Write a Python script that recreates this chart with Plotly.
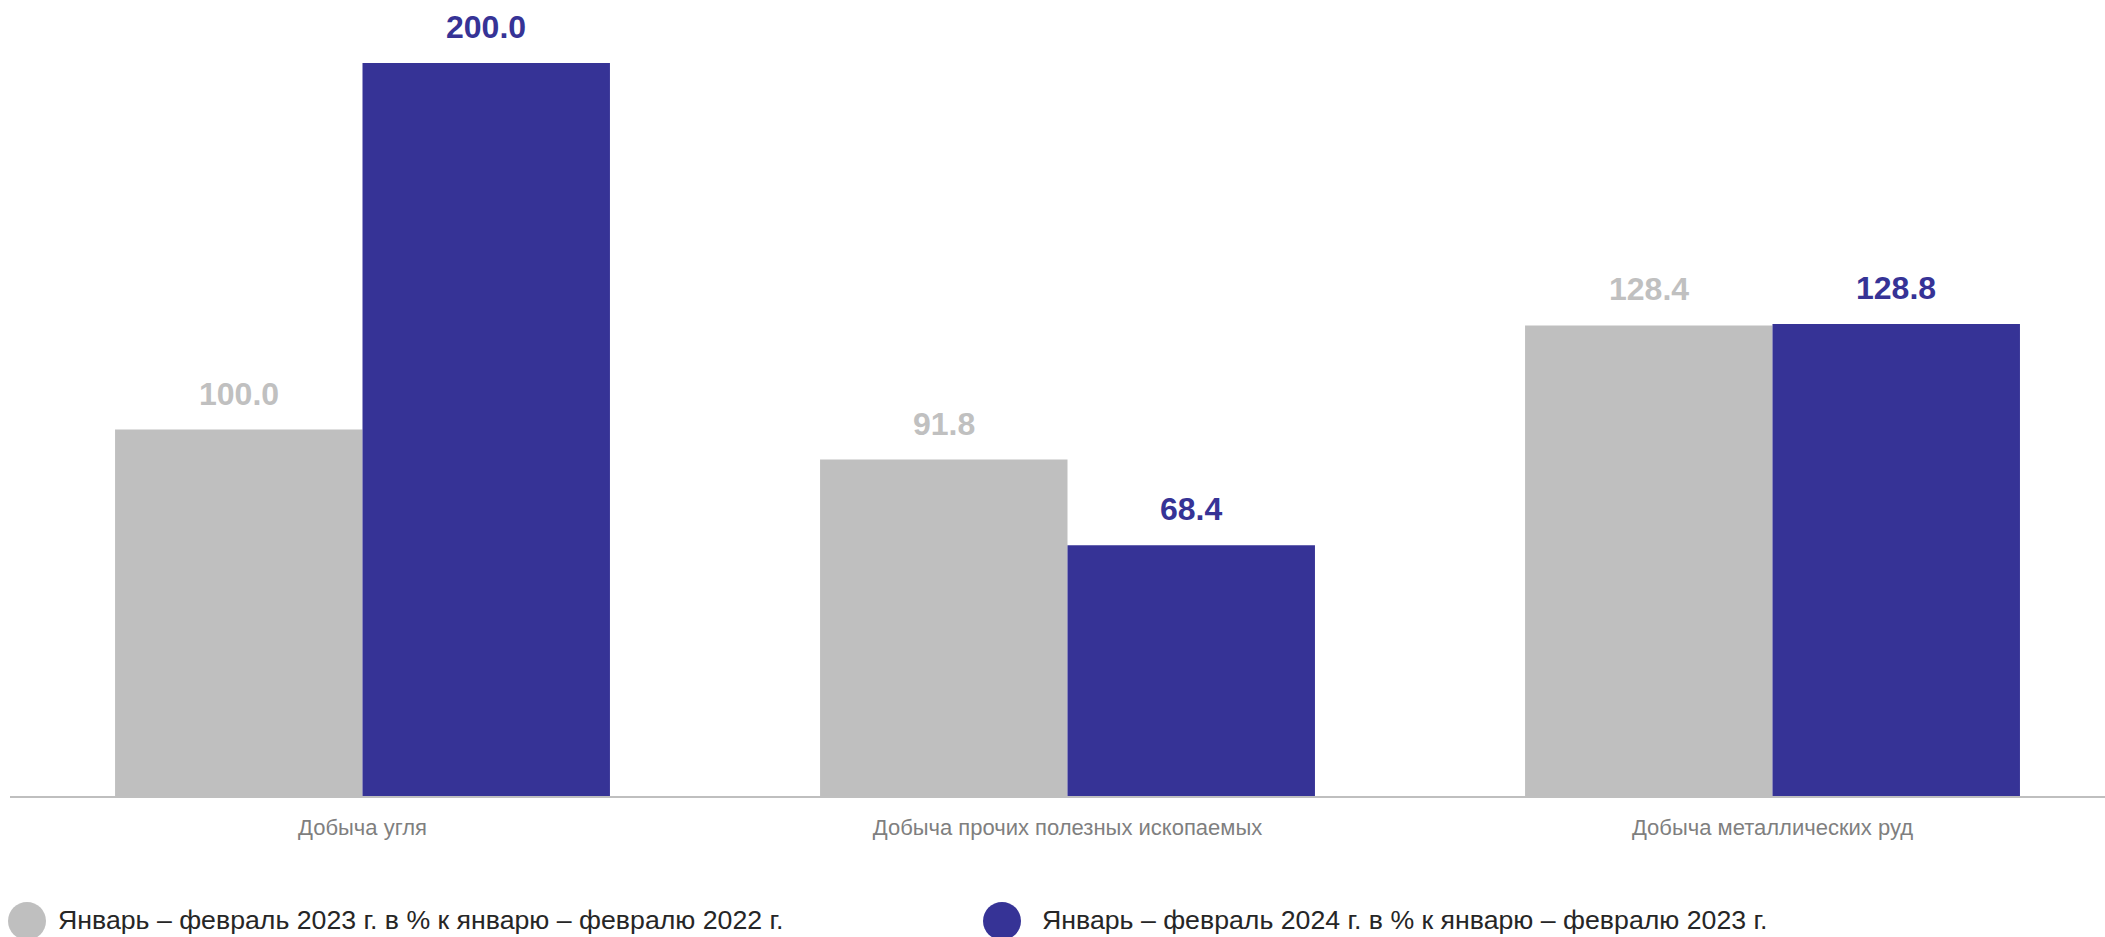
import plotly.graph_objects as go

categories = ["Добыча угля", "Добыча прочих полезных ископаемых", "Добыча металлических руд"]
series_names = [
    "Январь – февраль 2023 г. в % к январю – февралю 2022 г.",
    "Январь – февраль 2024 г. в % к январю – февралю 2023 г.",
]
values_2023 = [100.0, 91.8, 128.4]
values_2024 = [200.0, 68.4, 128.8]

GRAY = "#bfbfbf"
BLUE = "#363396"
FONT = "Arial, 'Liberation Sans', sans-serif"

W, H = 2105, 937
ML, MR, MT, MB = 10, 0, 0, 141
PW, PH = W - ML - MR, H - MT - MB
BARGAP = 0.298

fig = go.Figure()
for name, vals, col in [(series_names[0], values_2023, GRAY), (series_names[1], values_2024, BLUE)]:
    fig.add_trace(go.Bar(x=categories, y=vals, name=name, marker=dict(color=col, line=dict(width=0)),
                         showlegend=False, hoverinfo="x+y"))

# data labels above bars
half = (1 - BARGAP) / 4
annots = []
for vals, col, off in [(values_2023, "#c0c0c0", -half), (values_2024, BLUE, half)]:
    for i, v in enumerate(vals):
        annots.append(dict(x=i + off, y=v, xref="x", yref="y", text=f"{v:.1f}", showarrow=False,
                           yanchor="bottom", xanchor="center", yshift=16,
                           font=dict(family=FONT, size=32, color=col, weight="bold")))

# legend (circles + text)
def px_x(px):
    return (px - ML) / PW

def px_y(py):
    return (H - MB - py) / PH

legend_items = [(series_names[0], GRAY, 27, 57), (series_names[1], BLUE, 1002, 1041)]
shapes = []
for name, col, cx, tx in legend_items:
    shapes.append(dict(type="circle", xref="paper", yref="paper", xsizemode="pixel", ysizemode="pixel",
                       xanchor=px_x(cx), yanchor=px_y(921), x0=-19, x1=19, y0=-19, y1=19,
                       fillcolor=col, line=dict(width=0)))
    annots.append(dict(x=px_x(tx), y=px_y(920), xref="paper", yref="paper", text=name, showarrow=False,
                       xanchor="left", yanchor="middle", borderpad=0,
                       font=dict(family=FONT, size=26.7, color="#262626")))

fig.update_layout(
    width=W, height=H,
    margin=dict(l=ML, r=MR, t=MT, b=MB),
    paper_bgcolor="white", plot_bgcolor="white",
    barmode="group", bargap=BARGAP, bargroupgap=0,
    showlegend=False,
    xaxis=dict(type="category", range=[-0.5, -0.5 + PW / 705], showline=True, linecolor="#bfbfbf",
               linewidth=2, ticks="", showgrid=False, zeroline=False, ticklabelstandoff=11,
               tickfont=dict(family=FONT, size=22, color="#7f7f7f"), fixedrange=True),
    yaxis=dict(range=[0, PH / 3.665], visible=False, showgrid=False, zeroline=False, fixedrange=True),
    annotations=annots,
    shapes=shapes,
)

fig.write_html("out.html", config={"displayModeBar": False},
               post_script="document.body.style.margin='0';document.body.style.overflow='hidden';")
